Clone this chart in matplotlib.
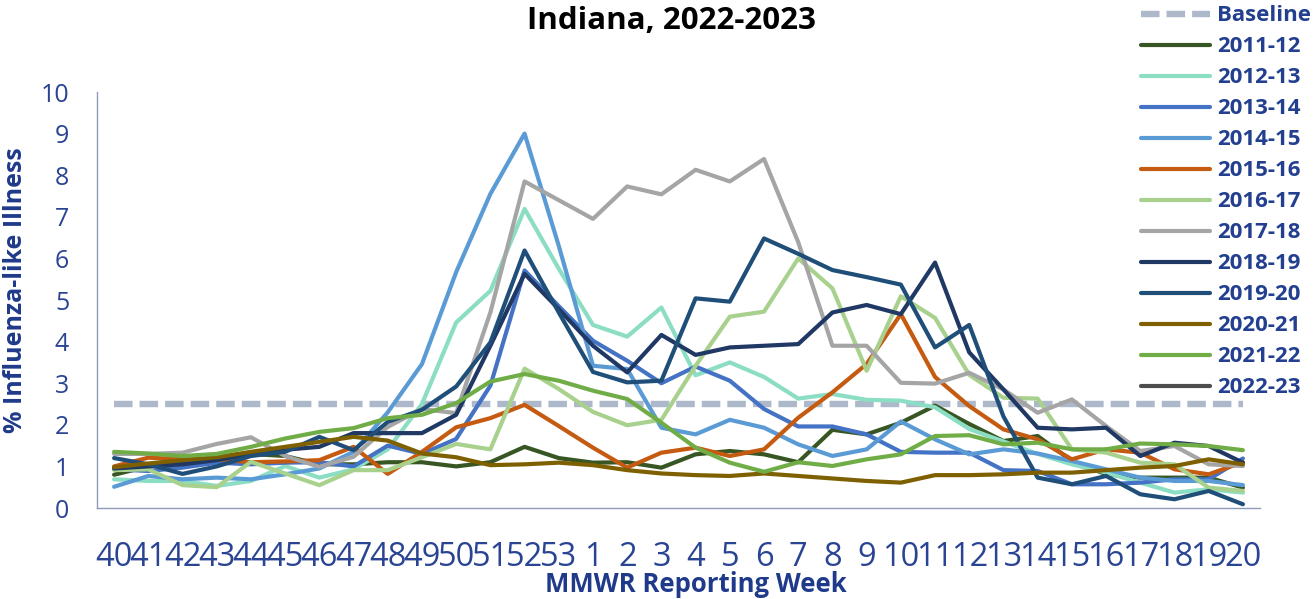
import matplotlib
matplotlib.use("Agg")
import matplotlib.pyplot as plt
import numpy as np

weeks = ['40', '41', '42', '43', '44', '45', '46', '47', '48', '49', '50', '51', '52', '53',
         '1', '2', '3', '4', '5', '6', '7', '8', '9', '10', '11', '12', '13', '14', '15',
         '16', '17', '18', '19', '20']

baseline_value = 2.5

s2011_12 = [0.80, 1.00, 1.10, 1.15, 1.30, 1.25, 1.05, 1.05, 1.10, 1.10, 1.00, 1.10, 1.47, 1.20,
            1.09, 1.10, 0.97, 1.29, 1.37, 1.29, 1.10, 1.88, 1.77, 2.05, 2.46, 2.02, 1.61, 1.73,
            1.13, 0.81, 0.73, 0.73, 0.73, 0.49]
s2012_13 = [0.69, 0.65, 0.65, 0.53, 0.65, 1.01, 0.73, 0.93, 1.41, 2.50, 4.46, 5.22, 7.19, 5.75,
            4.40, 4.12, 4.82, 3.19, 3.50, 3.15, 2.63, 2.74, 2.60, 2.58, 2.42, 1.90, 1.60, 1.30,
            1.05, 0.85, 0.61, 0.37, 0.45, 0.37]
s2013_14 = [0.93, 0.89, 0.97, 1.09, 1.05, 1.09, 1.10, 1.00, 1.50, 1.30, 1.66, 2.94, 5.71, 4.85,
            4.02, 3.54, 3.00, 3.40, 3.06, 2.38, 1.96, 1.96, 1.77, 1.35, 1.33, 1.33, 0.91, 0.89,
            0.57, 0.57, 0.61, 0.69, 0.69, 1.19]
s2014_15 = [0.51, 0.77, 0.69, 0.73, 0.69, 0.81, 0.95, 1.35, 2.30, 3.46, 5.67, 7.55, 9.00, 6.30,
            3.42, 3.34, 1.93, 1.77, 2.12, 1.93, 1.53, 1.25, 1.41, 2.08, 1.65, 1.29, 1.41, 1.31,
            1.13, 0.93, 0.73, 0.65, 0.65, 0.55]
s2015_16 = [1.00, 1.21, 1.17, 1.17, 1.10, 1.12, 1.15, 1.47, 0.82, 1.35, 1.94, 2.16, 2.48, 1.97,
            1.45, 0.97, 1.33, 1.45, 1.25, 1.41, 2.17, 2.78, 3.46, 4.66, 3.15, 2.45, 1.89, 1.65,
            1.17, 1.41, 1.33, 0.93, 0.81, 1.10]
s2016_17 = [0.91, 0.93, 0.55, 0.50, 1.11, 0.83, 0.55, 0.91, 0.91, 1.22, 1.54, 1.41, 3.35, 2.86,
            2.31, 1.99, 2.12, 3.42, 4.60, 4.72, 6.00, 5.28, 3.30, 5.09, 4.57, 3.20, 2.65, 2.63,
            1.41, 1.33, 1.09, 1.05, 0.49, 0.41]
s2017_18 = [1.30, 1.30, 1.33, 1.54, 1.70, 1.25, 0.99, 1.23, 1.95, 2.38, 2.28, 4.70, 7.85, 7.40,
            6.95, 7.73, 7.54, 8.13, 7.85, 8.39, 6.39, 3.90, 3.90, 3.01, 2.99, 3.25, 2.85, 2.29,
            2.61, 1.97, 1.37, 1.49, 1.05, 1.01]
s2018_19 = [0.95, 1.00, 1.05, 1.15, 1.30, 1.40, 1.47, 1.80, 1.80, 1.80, 2.24, 3.90, 5.63, 4.78,
            3.90, 3.26, 4.16, 3.68, 3.86, 3.90, 3.94, 4.70, 4.88, 4.66, 5.90, 3.74, 2.85, 1.93,
            1.89, 1.93, 1.25, 1.57, 1.49, 1.09]
s2019_20 = [1.20, 1.05, 0.82, 1.00, 1.25, 1.35, 1.71, 1.39, 2.07, 2.36, 2.92, 3.98, 6.19, 4.70,
            3.27, 3.02, 3.06, 5.04, 4.96, 6.48, 6.11, 5.72, 5.55, 5.37, 3.86, 4.40, 2.20, 0.73,
            0.57, 0.77, 0.33, 0.21, 0.41, 0.09]
s2020_21 = [0.98, 1.07, 1.15, 1.22, 1.35, 1.47, 1.59, 1.71, 1.62, 1.31, 1.22, 1.03, 1.05, 1.09,
            1.03, 0.91, 0.83, 0.79, 0.77, 0.83, 0.77, 0.71, 0.65, 0.61, 0.79, 0.79, 0.81, 0.85,
            0.85, 0.91, 0.97, 1.01, 1.17, 1.05]
s2021_22 = [1.35, 1.31, 1.25, 1.30, 1.47, 1.67, 1.83, 1.92, 2.16, 2.24, 2.52, 3.04, 3.22, 3.06,
            2.82, 2.62, 2.05, 1.45, 1.09, 0.87, 1.10, 1.01, 1.17, 1.29, 1.73, 1.75, 1.53, 1.57,
            1.41, 1.41, 1.55, 1.53, 1.49, 1.39]
s2022_23 = []

series = [
    ('2011-12', s2011_12, '#375623'),
    ('2012-13', s2012_13, '#8BDDC4'),
    ('2013-14', s2013_14, '#4472C4'),
    ('2014-15', s2014_15, '#5B9BD5'),
    ('2015-16', s2015_16, '#C55A11'),
    ('2016-17', s2016_17, '#A9D18E'),
    ('2017-18', s2017_18, '#A5A5A5'),
    ('2018-19', s2018_19, '#203864'),
    ('2019-20', s2019_20, '#1F4E79'),
    ('2020-21', s2020_21, '#7F6000'),
    ('2021-22', s2021_22, '#70AD47'),
    ('2022-23', s2022_23, '#4D4D4D'),
]

FONT = 'Open Sans'
TXT = '#2A4494'
plt.rcParams['font.family'] = [FONT, 'DejaVu Sans']

fig = plt.figure(figsize=(13.16, 5.99), dpi=100)
ax = fig.add_axes([97 / 1316, 1 - 508 / 599, (1260 - 97) / 1316, (508 - 92) / 599])

x = np.arange(len(weeks))
ax.plot(x, [baseline_value] * len(weeks), color='#ADB9CA', lw=4.6,
        dashes=(2.9, 1.1), label='Baseline', solid_capstyle='butt', dash_capstyle='butt')
for name, vals, col in series:
    ax.plot(x[:len(vals)], vals, color=col, lw=3.0, label=name, solid_capstyle='round')

ax.set_xlim(-0.5, len(weeks) - 0.5)
ax.set_ylim(0, 10)
ax.set_yticks(range(0, 11))
ax.set_xticks(x)
ax.set_xticklabels(weeks)
ax.tick_params(axis='both', length=0)
ax.tick_params(axis='x', labelsize=23.5, labelcolor=TXT, pad=24)
ax.tick_params(axis='y', labelsize=18, labelcolor=TXT, pad=20)
for s in ['top', 'right']:
    ax.spines[s].set_visible(False)
for s in ['left', 'bottom']:
    ax.spines[s].set_color('#8E9AB8')
    ax.spines[s].set_linewidth(1.0)

fig.text(671 / 1316, 1 - 21 / 599, 'Indiana, 2022-2023', ha='center', va='center',
         fontsize=22.5, fontweight='bold', color='black')
fig.text(696 / 1316, 1 - 585 / 599, 'MMWR Reporting Week', ha='center', va='center',
         fontsize=18.5, fontweight='bold', color='#1F3A8A')
fig.text(16 / 1316, 1 - 290 / 599, '% Influenza-like Illness', ha='center', va='center',
         rotation=90, fontsize=18, fontweight='bold', color='#1F3A8A')

leg = fig.legend(loc='upper left', bbox_to_anchor=(1137 / 1316, 1 - 1 / 599),
                 frameon=False, prop={'family': FONT, 'weight': 'bold', 'size': 16},
                 handlelength=3.1, handletextpad=0.32, labelspacing=0.45,
                 borderpad=0.2, borderaxespad=0)
for t in leg.get_texts():
    t.set_color('#233F8F')

fig.savefig('out.png', dpi=100)
